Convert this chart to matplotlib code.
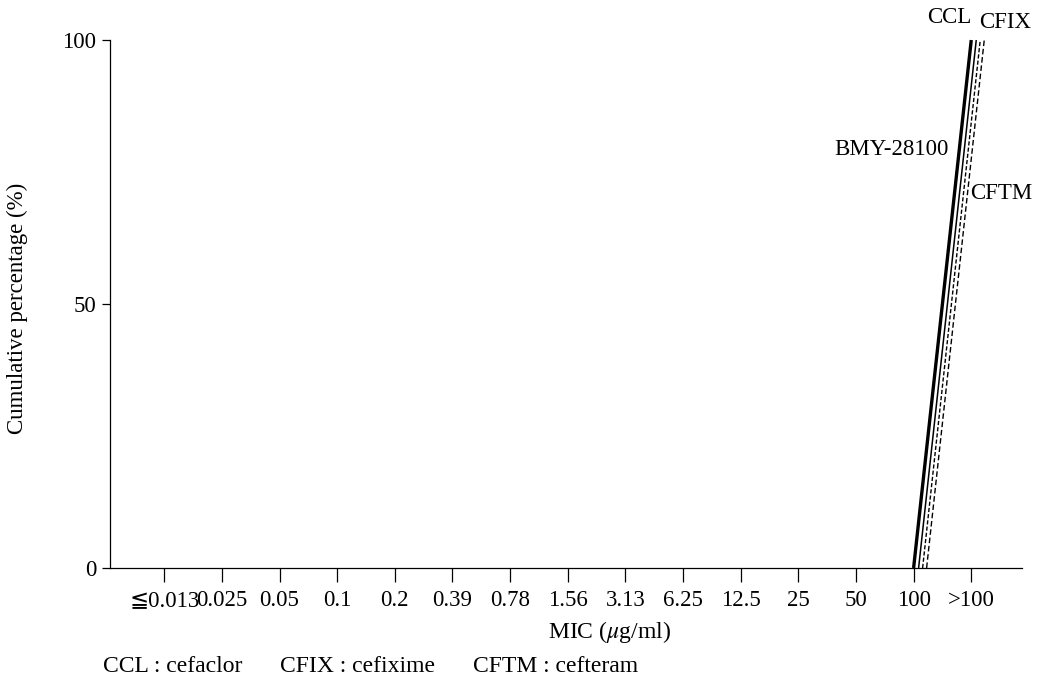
import matplotlib
matplotlib.use("Agg")
from matplotlib import pyplot as plt
from matplotlib import transforms
import numpy as np

plt.rcParams['font.family'] = ['Liberation Serif', 'DejaVu Serif', 'DejaVu Sans']
plt.rcParams['mathtext.fontset'] = 'stix'

mic_labels = ['≦0.013', '0.025', '0.05', '0.1', '0.2', '0.39', '0.78', '1.56',
              '3.13', '6.25', '12.5', '25', '50', '100', '>100']

# cumulative % of strains inhibited at each MIC
bmy_28100 = [0, 0, 0, 0, 0, 0, 0, 0, 0, 0, 0, 0, 0, 0, 100]
ccl = [0, 0, 0, 0, 0, 0, 0, 0, 0, 0, 0, 0, 0, 0, 100]
cfix = [0, 0, 0, 0, 0, 0, 0, 0, 0, 0, 0, 0, 0, 0, 100]
cftm = [0, 0, 0, 0, 0, 0, 0, 0, 0, 0, 0, 0, 0, 0, 100]

footnote = ['CCL : cefaclor', 'CFIX : cefixime', 'CFTM : cefteram']


def main():
    fig = plt.figure(figsize=(10.47, 6.82), dpi=100)
    ax = fig.add_axes([0.1051, 0.1672, 0.8710, 0.7741])

    x = np.arange(len(mic_labels))
    # (series, linewidth, linestyle, horizontal shift in px so the curves stay apart)
    series = [
        (bmy_28100, 2.4, '-', 0),
        (ccl, 1.1, '-', 5),
        (cfix, 1.0, (0, (3, 1.5)), 9),
        (cftm, 1.0, (0, (4, 2)), 13),
    ]
    for vals, lw, ls, dx in series:
        vals = np.asarray(vals)
        start = max(np.argmax(vals > 0) - 1, 0)
        tr = transforms.offset_copy(ax.transData, fig=fig, x=dx, y=0, units='dots')
        ax.plot(x[start:], vals[start:], color='black', lw=lw, ls=ls,
                transform=tr, solid_capstyle='butt', clip_on=False)

    fs = 16.5
    ax.text(13.62, 104.2, 'CCL', ha='center', va='center', fontsize=fs)
    ax.text(14.59, 103.4, 'CFIX', ha='center', va='center', fontsize=fs)
    ax.text(13.60, 79.2, 'BMY-28100', ha='right', va='center', fontsize=fs)
    ax.text(13.98, 71.0, 'CFTM', ha='left', va='center', fontsize=fs)

    ax.set_xlim(-0.94, 14.88)
    ax.set_ylim(0, 100)
    ax.set_xticks(x)
    ax.set_xticklabels(mic_labels, fontsize=16.5)
    ax.set_yticks([0, 50, 100])
    ax.set_yticklabels(['0', '50', '100'], fontsize=16.5)
    ax.tick_params(axis='x', direction='out', length=10, width=0.9, pad=6)
    ax.tick_params(axis='y', direction='out', length=6, width=0.9, pad=4)

    ax.spines['top'].set_visible(False)
    ax.spines['right'].set_visible(False)
    ax.spines['left'].set_linewidth(0.9)
    ax.spines['bottom'].set_linewidth(0.9)

    fig.text(0.582, 0.073, 'MIC ($\\mu$g/ml)', ha='center', va='center', fontsize=17)
    fig.text(0.017, 0.548, 'Cumulative percentage (%)', rotation=90,
             ha='center', va='center', fontsize=16.5)
    for txt, xf in zip(footnote, [0.0984, 0.2674, 0.4518]):
        fig.text(xf, 0.022, txt, ha='left', va='center', fontsize=17)

    fig.savefig('out.png', dpi=100)


if __name__ == "__main__":
    main()
